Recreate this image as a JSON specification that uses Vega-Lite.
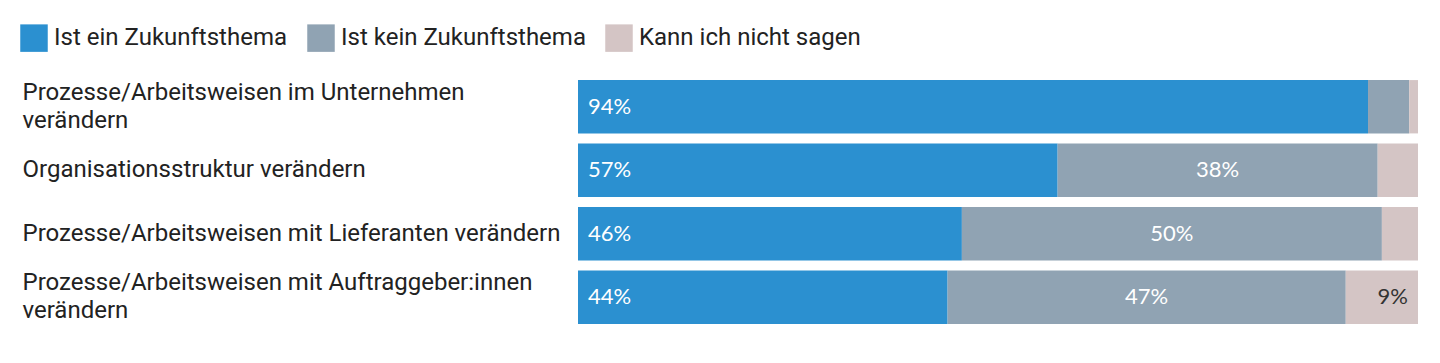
{
  "$schema": "https://vega.github.io/schema/vega-lite/v6.json",
  "autosize": {"type": "none"},
  "width": 840,
  "height": 254,
  "padding": {"left": 578, "top": 75, "right": 22, "bottom": 34},
  "background": "white",
  "config": {"view": {"stroke": null}, "font": "Roboto"},
  "data": {
    "values": [
      {"item": "Prozesse/Arbeitsweisen im Unternehmen|verändern", "cat": "Ist ein Zukunftsthema", "value": 0.9405},
      {"item": "Prozesse/Arbeitsweisen im Unternehmen|verändern", "cat": "Ist kein Zukunftsthema", "value": 0.049},
      {"item": "Prozesse/Arbeitsweisen im Unternehmen|verändern", "cat": "Kann ich nicht sagen", "value": 0.0105},
      {"item": "Organisationsstruktur verändern", "cat": "Ist ein Zukunftsthema", "value": 0.571},
      {"item": "Organisationsstruktur verändern", "cat": "Ist kein Zukunftsthema", "value": 0.381},
      {"item": "Organisationsstruktur verändern", "cat": "Kann ich nicht sagen", "value": 0.048},
      {"item": "Prozesse/Arbeitsweisen mit Lieferanten verändern", "cat": "Ist ein Zukunftsthema", "value": 0.457},
      {"item": "Prozesse/Arbeitsweisen mit Lieferanten verändern", "cat": "Ist kein Zukunftsthema", "value": 0.50},
      {"item": "Prozesse/Arbeitsweisen mit Lieferanten verändern", "cat": "Kann ich nicht sagen", "value": 0.043},
      {"item": "Prozesse/Arbeitsweisen mit Auftraggeber:innen|verändern", "cat": "Ist ein Zukunftsthema", "value": 0.44},
      {"item": "Prozesse/Arbeitsweisen mit Auftraggeber:innen|verändern", "cat": "Ist kein Zukunftsthema", "value": 0.474},
      {"item": "Prozesse/Arbeitsweisen mit Auftraggeber:innen|verändern", "cat": "Kann ich nicht sagen", "value": 0.086}
    ]
  },
  "encoding": {
    "y": {
      "field": "item",
      "type": "nominal",
      "sort": null,
      "scale": {"paddingInner": 0.16, "paddingOuter": 0.08},
      "axis": {
        "title": null,
        "ticks": false,
        "domain": false,
        "labelAlign": "left",
        "labelBaseline": "middle",
        "labelPadding": 556,
        "labelFontSize": 24,
        "labelFont": "Roboto",
        "labelColor": "#222222",
        "labelLineHeight": 28,
        "labelLimit": 0,
        "labelOffset": {"condition": {"test": "indexof(datum.value, '|') >= 0", "value": -14}, "value": 0},
        "labelExpr": "split(datum.label, '|')"
      }
    },
    "order": {"field": "cat", "sort": "ascending"}
  },
  "layer": [
    {
      "mark": {"type": "bar"},
      "encoding": {
        "x": {"field": "value", "type": "quantitative", "stack": "zero", "scale": {"domain": [0, 1]}, "axis": null},
        "color": {
          "field": "cat",
          "type": "nominal",
          "scale": {
            "domain": ["Ist ein Zukunftsthema", "Ist kein Zukunftsthema", "Kann ich nicht sagen"],
            "range": ["#2b90d0", "#90a3b3", "#d4c5c5"]
          },
          "legend": {
            "title": null,
            "orient": "none",
            "legendX": -558,
            "legendY": -51,
            "direction": "horizontal",
            "symbolType": "square",
            "symbolSize": 756,
            "symbolStrokeWidth": 0,
            "symbolOpacity": 1,
            "labelFontSize": 24,
            "labelFont": "Roboto",
            "labelColor": "#222222",
            "labelOffset": 6,
            "columnPadding": 19,
            "labelLimit": 0
          }
        }
      }
    },
    {
      "mark": {"type": "text", "align": "left", "baseline": "middle", "dx": 10, "fontSize": 22, "font": "Lato", "color": "white"},
      "encoding": {
        "x": {"field": "value", "type": "quantitative", "stack": "zero", "bandPosition": 0},
        "detail": {"field": "cat"},
        "text": {"condition": {"test": "datum.cat === 'Ist ein Zukunftsthema' && datum.value >= 0.08", "field": "value", "format": ".0%"}, "value": ""}
      }
    },
    {
      "mark": {"type": "text", "align": "center", "baseline": "middle", "fontSize": 22, "font": "Lato", "color": "white"},
      "encoding": {
        "x": {"field": "value", "type": "quantitative", "stack": "zero", "bandPosition": 0.5},
        "detail": {"field": "cat"},
        "text": {"condition": {"test": "datum.cat === 'Ist kein Zukunftsthema' && datum.value >= 0.08", "field": "value", "format": ".0%"}, "value": ""}
      }
    },
    {
      "mark": {"type": "text", "align": "right", "baseline": "middle", "dx": -10, "fontSize": 22, "font": "Lato", "color": "#333333"},
      "encoding": {
        "x": {"field": "value", "type": "quantitative", "stack": "zero", "bandPosition": 1},
        "detail": {"field": "cat"},
        "text": {"condition": {"test": "datum.cat === 'Kann ich nicht sagen' && datum.value >= 0.08", "field": "value", "format": ".0%"}, "value": ""}
      }
    }
  ]
}
